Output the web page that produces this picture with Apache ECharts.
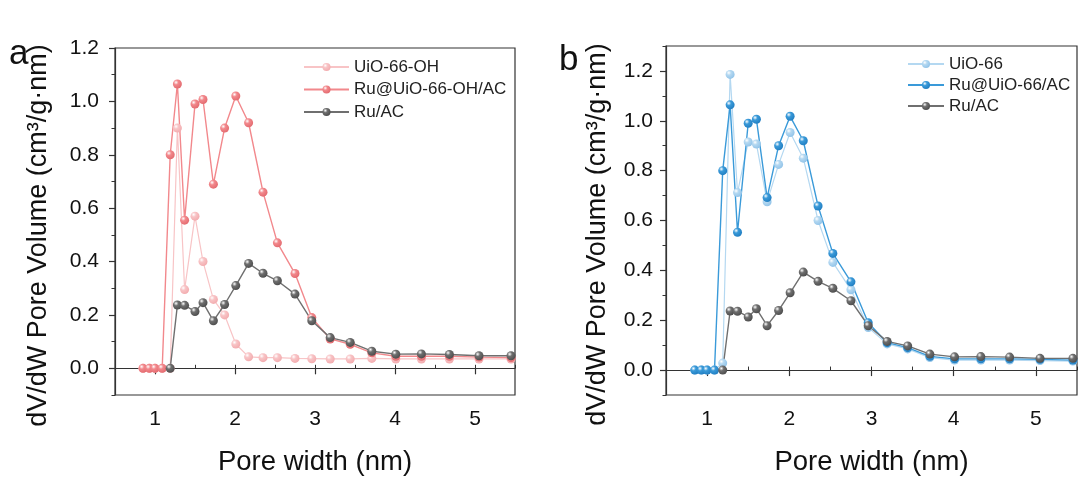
<!DOCTYPE html>
<html>
<head>
<meta charset="utf-8">
<script src="https://cdn.jsdelivr.net/npm/echarts@6/dist/echarts.min.js"></script>
<style>
  html, body { margin: 0; padding: 0; background: #fff; }
  #chart { width: 1079px; height: 481px; }
</style>
</head>
<body>
<div id="chart"></div>
<script>
// pore width (nm), shared by every series
const poreWidth = [0.85, 0.93, 1.0, 1.09, 1.19, 1.28, 1.37, 1.5, 1.6, 1.73, 1.87, 2.01, 2.17, 2.35, 2.53, 2.75, 2.96, 3.19, 3.44, 3.71, 4.01, 4.33, 4.68, 5.05, 5.45];

// panel a
const uioOh = [0, 0, 0, 0, 0, 0.9, 0.295, 0.57, 0.4, 0.258, 0.2, 0.091, 0.043, 0.04, 0.04, 0.037, 0.036, 0.035, 0.035, 0.037, 0.035, 0.035, 0.035, 0.035, 0.035];
const ruUioOhAc = [0, 0, 0, 0, 0.8, 1.065, 0.555, 0.99, 1.007, 0.69, 0.9, 1.02, 0.92, 0.66, 0.47, 0.355, 0.19, 0.11, 0.09, 0.058, 0.045, 0.045, 0.045, 0.042, 0.04];
const ruAc = [null, null, null, null, 0, 0.237, 0.236, 0.213, 0.246, 0.178, 0.239, 0.31, 0.393, 0.356, 0.328, 0.278, 0.178, 0.115, 0.097, 0.064, 0.053, 0.054, 0.052, 0.047, 0.047];

// panel b
const uio66 = [0, 0, 0, 0, 0.028, 1.186, 0.712, 0.915, 0.907, 0.675, 0.825, 0.953, 0.85, 0.6, 0.432, 0.322, 0.171, 0.105, 0.085, 0.05, 0.04, 0.04, 0.04, 0.038, 0.036];
const ruUio66Ac = [0, 0, 0, 0, 0.8, 1.064, 0.553, 0.99, 1.006, 0.692, 0.9, 1.018, 0.92, 0.658, 0.468, 0.354, 0.19, 0.11, 0.09, 0.055, 0.045, 0.045, 0.045, 0.043, 0.04];

const xTicks = [1, 2, 3, 4, 5];
const yTicks = [0, 0.2, 0.4, 0.6, 0.8, 1.0, 1.2];

const FONT = "Liberation Sans, Arial, sans-serif";

function pairs(values) {
  return values.map((v, i) => [poreWidth[i], v]);
}

function ball(color, dark) {
  return {
    type: "radial", x: 0.35, y: 0.32, r: 0.75,
    colorStops: [
      { offset: 0, color: "#ffffff" },
      { offset: 0.35, color: color },
      { offset: 1, color: dark },
    ],
  };
}

function lineSeries(name, values, color, dark, idx, width) {
  return {
    name,
    type: "line",
    xAxisIndex: idx * 2,
    yAxisIndex: idx * 2,
    data: pairs(values),
    symbol: "circle",
    symbolSize: 9,
    lineStyle: { color, width },
    itemStyle: { color: ball(color, dark) },
    emphasis: { disabled: true },
    animation: false,
  };
}

function majorX(grid, margin) {
  return {
    type: "value", gridIndex: grid, min: 0.5, max: 5.5,
    name: "Pore width (nm)", nameLocation: "middle", nameGap: 53,
    nameTextStyle: { fontSize: 27.5, color: "#111", fontFamily: FONT },
    axisLine: { lineStyle: { color: "#333", width: 1.2 } },
    axisTick: { customValues: xTicks, length: 6, lineStyle: { color: "#333", width: 1.2 } },
    axisLabel: { customValues: xTicks, margin, fontSize: 21, color: "#111", fontFamily: FONT },
    splitLine: { show: false },
  };
}

function minorX(grid) {
  return {
    type: "value", gridIndex: grid, min: 0.5, max: 5.5, interval: 0.5,
    axisLine: { show: false },
    axisTick: { length: 3.5, lineStyle: { color: "#333", width: 1 } },
    axisLabel: { show: false },
    splitLine: { show: false },
  };
}

function majorY(grid, max, gap, margin) {
  return {
    type: "value", gridIndex: grid, min: -0.1, max, position: "left",
    name: "dV/dW Pore Volume (cm³/g·nm)", nameLocation: "middle", nameGap: gap,
    nameTextStyle: { fontSize: 27, color: "#111", fontFamily: FONT, padding: [0, 28, 0, 0] },
    axisLine: { show: true, lineStyle: { color: "#333", width: 1.2 } },
    axisTick: { show: true, customValues: yTicks, length: 6, lineStyle: { color: "#333", width: 1.2 } },
    axisLabel: { customValues: yTicks, margin, fontSize: 21, color: "#111", fontFamily: FONT,
      formatter: (v) => v.toFixed(1) },
    splitLine: { show: false },
  };
}

function minorY(grid, max) {
  return {
    type: "value", gridIndex: grid, min: -0.1, max, interval: 0.1, position: "left",
    axisLine: { show: false },
    axisTick: { show: true, length: 3.5, lineStyle: { color: "#333", width: 1 } },
    axisLabel: { show: false },
    splitLine: { show: false },
  };
}

const legendText = { fontSize: 17, color: "#222", fontFamily: FONT, lineHeight: 18 };

const option = {
  backgroundColor: "#fff",
  animation: false,
  grid: [
    { left: 115, top: 48, width: 400, height: 348, show: true, borderColor: "#333", borderWidth: 1.2 },
    { left: 666, top: 46, width: 411, height: 351, show: true, borderColor: "#333", borderWidth: 1.2 },
  ],
  xAxis: [majorX(0, 14), minorX(0), majorX(1, 14), minorX(1)],
  yAxis: [majorY(0, 1.2, 63, 16), minorY(0, 1.2), majorY(1, 1.3, 55, 13), minorY(1, 1.3)],
  legend: [
    {
      data: ["UiO-66-OH", "Ru@UiO-66-OH/AC", "Ru/AC"],
      orient: "vertical", left: 298, top: 53,
      itemWidth: 45, itemHeight: 10, itemGap: 4.5,
      textStyle: legendText,
    },
    {
      data: ["UiO-66", "Ru@UiO-66/AC", { name: "Ru/AC " }],
      orient: "vertical", left: 902, top: 50,
      itemWidth: 36, itemHeight: 10, itemGap: 3,
      textStyle: legendText,
    },
  ],
  graphic: [
    { type: "text", left: 9, top: 37, style: { text: "a", fontSize: 35, fill: "#111", fontFamily: FONT } },
    { type: "text", left: 559, top: 43, style: { text: "b", fontSize: 35, fill: "#111", fontFamily: FONT } },
  ],
  series: [
    lineSeries("UiO-66-OH", uioOh, "#f8c4c6", "#f2a9ac", 0, 1.2),
    lineSeries("Ru@UiO-66-OH/AC", ruUioOhAc, "#f2888c", "#e2686d", 0, 1.4),
    lineSeries("Ru/AC", ruAc, "#6f6f6f", "#4a4a4a", 0, 1.4),
    lineSeries("UiO-66", uio66, "#b4d8f1", "#8fc2e8", 1, 1.2),
    lineSeries("Ru@UiO-66/AC", ruUio66Ac, "#3a9ad9", "#1f7cc0", 1, 1.4),
    lineSeries("Ru/AC ", ruAc, "#6f6f6f", "#4a4a4a", 1, 1.4),
  ],
};

const chart = echarts.init(document.getElementById("chart"), null, { renderer: "canvas" });
chart.setOption(option);
</script>
</body>
</html>
